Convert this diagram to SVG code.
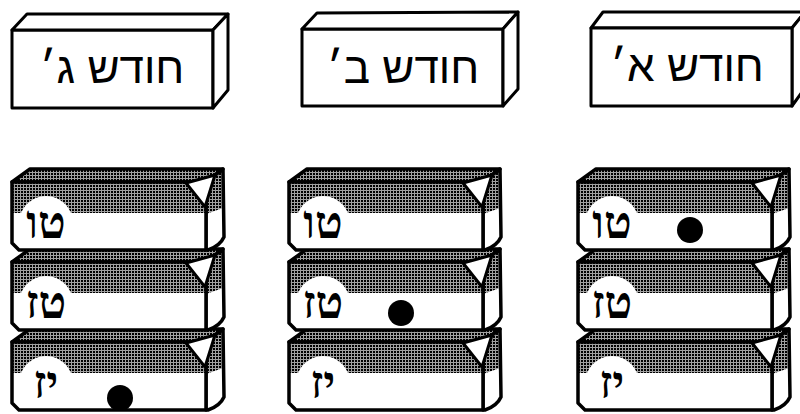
<svg xmlns="http://www.w3.org/2000/svg" width="800" height="414" viewBox="0 0 800 414">
<defs>
<pattern id="ht" width="3" height="3" patternUnits="userSpaceOnUse">
<rect width="3" height="3" fill="#a0a0a0"/>
<rect width="2" height="2" fill="#000"/>
</pattern>
<style>
.o{stroke:#000;stroke-width:3.5;stroke-linejoin:round;fill:none}
.w{fill:#fff}
.g{fill:url(#ht)}
.hb{fill:#fff;stroke:#000;stroke-width:3;stroke-linejoin:round}
.ht{font-family:"Liberation Sans","DejaVu Sans",sans-serif;font-size:44px;text-anchor:middle;fill:#000}
.lb{font-family:"Liberation Serif","DejaVu Serif",serif;font-size:46px;font-weight:bold;text-anchor:middle;fill:#000}
</style>
<g id="drawer">
<polygon class="g" points="0,0 18,-13 211,-13 194,0"/>
<polygon class="o" points="0,0 18,-13 211,-13 194,0"/>
<path class="w" d="M194,0 L211,-13 L212,55 Q208,64 196,68 L194,68 Z"/>
<polygon class="g" points="194,0 211,-13 211,26 194,32"/>
<path class="o" d="M194,0 L211,-13 L212,55 Q208,64 196,68 L194,68 Z"/>
<path class="w" d="M0,0 L194,0 L194,68 L7,68 L0,61 Z"/>
<rect class="g" x="0" y="0" width="194" height="31"/>
<circle class="w" cx="34" cy="41" r="27"/>
<path class="o" d="M0,0 L194,0 L194,68 L7,68 L0,61 Z"/>
<polygon class="w" points="174,1 203,-7 193,25" stroke="#000" stroke-width="3" stroke-linejoin="round"/>
</g>
</defs>

<g id="header-gimel">
<rect class="hb" x="12" y="30" width="201" height="78"/>
<polygon class="hb" points="12,30 27,14 228,14 213,30"/>
<polygon class="hb" points="213,30 228,14 228,90 213,108"/>
<text class="ht" x="112" y="83">חודש ג׳</text>
</g>
<g id="header-bet">
<rect class="hb" x="302" y="29" width="201" height="77"/>
<polygon class="hb" points="302,29 317,13 518,12 503,29"/>
<polygon class="hb" points="503,29 518,12 518,89 503,106"/>
<text class="ht" x="403" y="83">חודש ב׳</text>
</g>
<g id="header-alef">
<polygon class="hb" points="591,28 603,12 805,12 792,28"/>
<polygon class="hb" points="792,28 805,12 805,88 792,106"/>
<rect class="hb" x="591" y="28" width="201" height="78"/>
<text class="ht" x="687" y="81">חודש א׳</text>
</g>

<!-- left column (month gimel) -->
<g id="c3-yz" transform="translate(12,342)"><use href="#drawer"/><text class="lb" x="34" y="56">יז</text><circle cx="108" cy="56" r="13" fill="#000"/></g>
<g id="c3-tz" transform="translate(12,262)"><use href="#drawer"/><text class="lb" x="34" y="56">טז</text></g>
<g id="c3-tv" transform="translate(12,182)"><use href="#drawer"/><text class="lb" x="34" y="56">טו</text></g>

<!-- middle column (month bet) -->
<g id="c2-yz" transform="translate(289,342)"><use href="#drawer"/><text class="lb" x="34" y="56">יז</text></g>
<g id="c2-tz" transform="translate(289,262)"><use href="#drawer"/><text class="lb" x="34" y="56">טז</text><circle cx="112" cy="51" r="13" fill="#000"/></g>
<g id="c2-tv" transform="translate(289,182)"><use href="#drawer"/><text class="lb" x="34" y="56">טו</text></g>

<!-- right column (month alef) -->
<g id="c1-yz" transform="translate(578,342)"><use href="#drawer"/><text class="lb" x="34" y="56">יז</text></g>
<g id="c1-tz" transform="translate(578,262)"><use href="#drawer"/><text class="lb" x="34" y="56">טז</text></g>
<g id="c1-tv" transform="translate(578,182)"><use href="#drawer"/><text class="lb" x="34" y="56">טו</text><circle cx="112" cy="48" r="13" fill="#000"/></g>
</svg>
